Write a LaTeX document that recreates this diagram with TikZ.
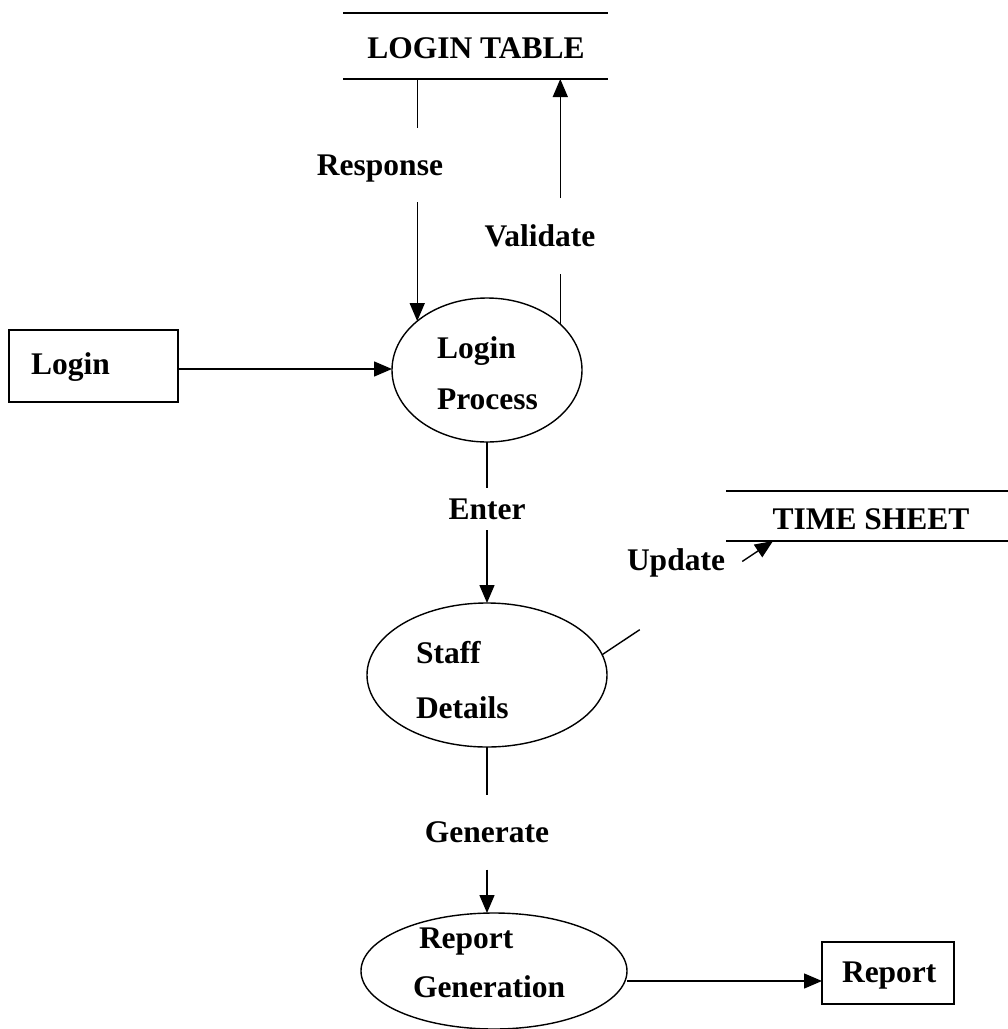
\documentclass[tikz,border=0pt]{standalone}
\usepackage{fontspec}
\setmainfont{Liberation Serif}
\usetikzlibrary{arrows.meta,shapes.geometric,calc}
\begin{document}
\begin{tikzpicture}[x=1pt,y=-1pt,
  flow/.style={line width=1.4pt},
  arr/.style={flow,-{Triangle[length=18pt,width=15pt]}},
  txt/.style={font=\fontsize{31.5}{36}\selectfont\bfseries,inner sep=0pt,outer sep=0pt},
  lbl/.style={txt,text depth=0pt},
  proc/.style={draw,ellipse,line width=1.4pt,inner sep=0pt,outer sep=0pt},
  ent/.style={draw,rectangle,line width=1.4pt,inner sep=0pt,outer sep=0pt},
  store/.style={line width=1.4pt}]
\useasboundingbox (0,0) rectangle (1008,1029);

% ---------- data stores ----------
\coordinate (ltTL) at (343,13);  \coordinate (ltTR) at (608,13);
\coordinate (ltBL) at (343,79);  \coordinate (ltBR) at (608,79);
\draw[store] (ltTL) -- (ltTR);
\draw[store] (ltBL) -- (ltBR);
\node[txt,anchor=base] (lt) at (476,58) {LOGIN TABLE};

\coordinate (tsTL) at (726,491); \coordinate (tsTR) at (1008,491);
\coordinate (tsBL) at (726,541); \coordinate (tsBR) at (1008,541);
\draw[store] (tsTL) -- (tsTR);
\draw[store] (tsBL) -- (tsBR);
\node[txt,anchor=base] (ts) at (871,529) {TIME SHEET};
\coordinate (tsIn) at (773,541);

% ---------- external entities ----------
\node[ent,minimum width=169pt,minimum height=72pt] (login) at (93.5,366) {};
\node[txt,anchor=base west] (loginT) at (31,374) {Login};

\node[ent,minimum width=132pt,minimum height=62pt] (report) at (888,973) {};
\node[txt,anchor=base west] (reportT) at (842,982) {Report};

% ---------- processes ----------
\node[proc,minimum width=190pt,minimum height=144pt] (lp) at (487,370) {};
\node[txt,anchor=base west] (lpA) at (437,358) {Login};
\node[txt,anchor=base west] (lpB) at (437,409) {Process};

\node[proc,minimum width=240pt,minimum height=144pt] (sd) at (487,675) {};
\node[txt,anchor=base west] (sdA) at (416,663) {Staff};
\node[txt,anchor=base west] (sdB) at (416,718) {Details};

\node[proc,minimum width=266pt,minimum height=116pt] (rg) at (494,971) {};
\node[txt,anchor=base west] (rgA) at (419,948) {Report};
\node[txt,anchor=base west] (rgB) at (413,997) {Generation};

% ---------- flow labels ----------
\node[lbl,minimum height=74pt] (rsp) at (380,165) {Response};
\node[lbl,minimum height=76pt] (val) at (540,236) {Validate};
\node[lbl,minimum height=42pt] (ent) at (487,509) {Enter};
\node[lbl] (upd) at (676,560) {Update};
\node[lbl,minimum height=75pt] (gen) at (487,832) {Generate};

% ---------- flows ----------
\coordinate (loginOut) at ([yshift=-3pt]login.east);
\draw[arr] (loginOut) -- (loginOut -| lp.west);

% Response: login table -> login process
\draw[flow] (lp.145 |- ltBL) -- (lp.145 |- rsp.north);
\draw[arr] (lp.145 |- rsp.south) -- (lp.145);

% Validate: login process -> login table
\draw[flow] (lp.32) -- (lp.32 |- val.south);
\draw[arr] (lp.32 |- val.north) -- (lp.32 |- ltBL);

% Enter: login process -> staff details
\draw[flow] (lp.south) -- (lp.south |- ent.north);
\draw[arr] (lp.south |- ent.south) -- (sd.north);

% Update: staff details -> time sheet
\draw[flow] (sd.10) -- ($(sd.10)!0.22!(tsIn)$);
\draw[arr] ($(sd.10)!0.82!(tsIn)$) -- (tsIn);

% Generate: staff details -> report generation
\draw[flow] (sd.south) -- (sd.south |- gen.north);
\draw[arr] (sd.south |- gen.south) -- (sd.south |- rg.north);

% Report generation -> report
\coordinate (rgOut) at ([yshift=-8pt]report.west);
\draw[arr] (rgOut -| rg.east) -- (rgOut);
\end{tikzpicture}
\end{document}
